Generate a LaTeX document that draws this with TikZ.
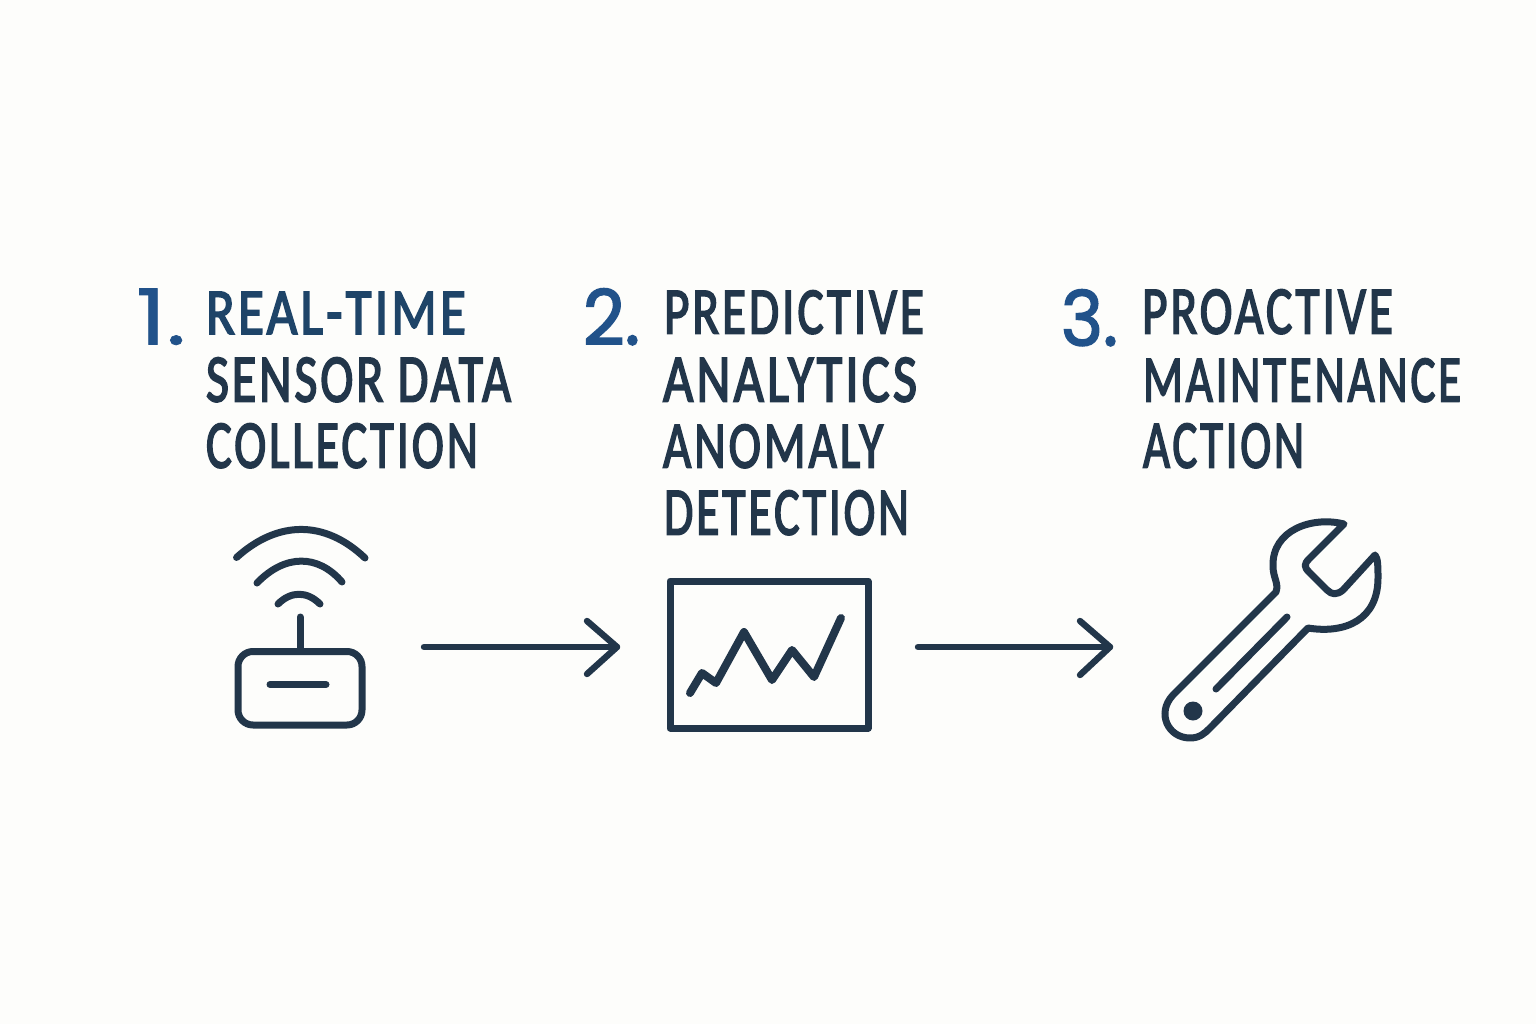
\documentclass[tikz,border=0pt]{standalone}
\usepackage{fontspec}
\setmainfont{Carlito}[FakeBold=2.8,LetterSpace=6]
\newfontfamily\numfont{Poppins}[FakeBold=0.8]
\newfontfamily\numfontheavy{Poppins}[FakeBold=2.2]
\definecolor{paper}{HTML}{FDFDFB}
\definecolor{ink}{HTML}{22364A}
\definecolor{numblue}{HTML}{21528A}
\definecolor{headblue}{HTML}{1E4468}
\newcommand{\fitline}[3]{\resizebox{#1pt}{#2pt}{#3}}
\tikzset{
  x=1pt,y=-1pt,
  icon/.style={draw=ink,line width=7pt,line cap=round,line join=round},
  arrowline/.style={draw=ink,line width=6.4pt,line cap=round,line join=round},
  textline/.style={anchor=south west,inner sep=0pt,outer sep=0pt,text=ink},
  headline/.style={textline,text=headblue},
  numeral/.style={textline,text=numblue,font=\numfont},
  numeralheavy/.style={textline,text=numblue,font=\numfontheavy},
}
\begin{document}
\begin{tikzpicture}
\useasboundingbox (0,0) rectangle (1536,1024);
\fill[paper] (0,0) rectangle (1536,1024);
% Step 1
\node[numeral] (n1) at (136,345) {\fitline{50}{56}{1.}};
\node[headline] (t1a) at (206,334) {\fitline{260}{42}{REAL-TIME}};
\node[textline] (t1b) at (206,402) {\fitline{305}{44}{SENSOR DATA}};
\node[textline] (t1c) at (206,468) {\fitline{272}{44}{COLLECTION}};
% Step 2
\node[numeralheavy] (n2) at (583,345) {\fitline{57}{56}{2.}};
\node[textline] (t2a) at (664,334) {\fitline{260}{43}{PREDICTIVE}};
\node[textline] (t2b) at (663,402) {\fitline{254}{44}{ANALYTICS}};
\node[textline] (t2c) at (663,468) {\fitline{220}{43}{ANOMALY}};
\node[textline] (t2d) at (664,535) {\fitline{245}{44}{DETECTION}};
% Step 3
\node[numeralheavy] (n3) at (1061,346) {\fitline{57}{56}{3.}};
\node[textline] (t3a) at (1142,334) {\fitline{251}{44}{PROACTIVE}};
\node[textline] (t3b) at (1143,402) {\fitline{318}{43}{MAINTENANCE}};
\node[textline] (t3c) at (1143,468) {\fitline{161}{44}{ACTION}};
% Sensor icon
\draw[icon] (236.5,557.5) .. controls (278,520) and (325,520) .. (365,558);
\draw[icon] (257,583) .. controls (285,554) and (318,554) .. (342,582);
\draw[icon] (278,604) .. controls (291,591) and (307,591) .. (320,604);
\draw[icon] (300,617) -- (300,651);
\draw[icon] (253,651.5) -- (347,651.5) arc[start angle=-90,end angle=0,radius=15] -- (362,710) arc[start angle=0,end angle=90,radius=15] -- (253,725) arc[start angle=90,end angle=180,radius=15] -- (238,666.5) arc[start angle=180,end angle=270,radius=15] -- cycle;
\draw[icon] (270,684.5) -- (326,684.5);
% Arrow 1
\coordinate (a1s) at (424,647);
\coordinate (a1e) at (617,647);
\draw[arrowline] (a1s) -- (a1e);
\draw[arrowline] (587,621) -- (a1e) -- (587,674);
% Chart icon
\draw[icon,line cap=butt] (670,581) rectangle (868,728);
\draw[icon,line width=8pt] (690,693) -- (702,673) -- (716,683) -- (744,632) -- (772,680) -- (792,650) -- (814,677) -- (841,618);
% Arrow 2
\coordinate (a2s) at (918,647);
\coordinate (a2e) at (1110,647);
\draw[arrowline] (a2s) -- (a2e);
\draw[arrowline] (1080,621) -- (a2e) -- (1080,675);
% Wrench icon
\draw[icon] (1344,524) .. controls (1312,516) and (1272,530) .. (1273,566)
  .. controls (1273,578) and (1279,583) .. (1276,592)
  -- (1173,695)
  .. controls (1156,713) and (1168,738) .. (1190,738)
  .. controls (1200,738) and (1205,733) .. (1210,728)
  -- (1308,628)
  .. controls (1345,634) and (1378,620) .. (1378,578)
  .. controls (1378,568) and (1378,558) .. (1375,555)
  -- (1343,590)
  .. controls (1337,595) and (1332,595) .. (1327,590)
  -- (1309,572)
  .. controls (1304,567) and (1304,564) .. (1309,559)
  -- cycle;
\draw[icon] (1216,689) -- (1287,617);
\fill[ink] (1193,711) circle (9.5);
\end{tikzpicture}
\end{document}
